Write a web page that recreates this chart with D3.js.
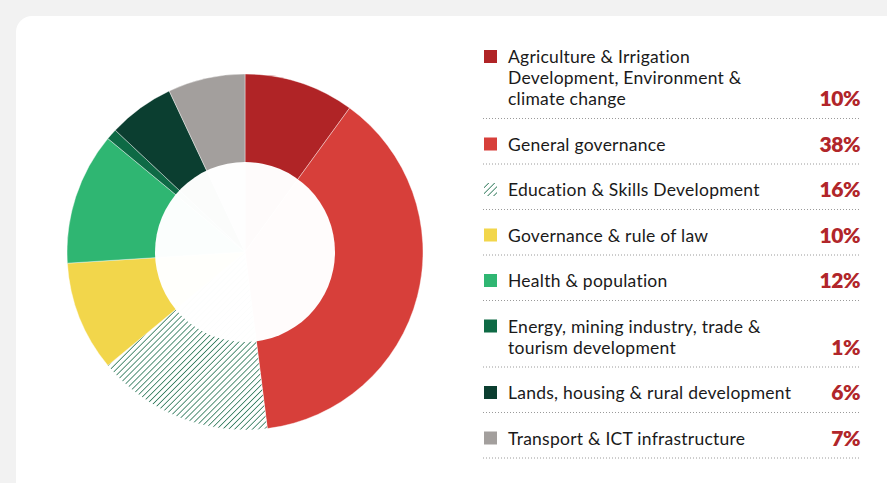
<!DOCTYPE html>
<html>
<head>
<meta charset="utf-8">
<script src="https://cdn.jsdelivr.net/npm/d3@7"></script>
<style>
  body { margin: 0; background: #f2f2f2; }
  svg { display: block; }
</style>
</head>
<body>
<svg id="chart" width="887" height="483"></svg>
<script>
// data
const categories = [
  ['Agriculture & Irrigation', 'Development, Environment &', 'climate change'],
  ['General governance'],
  ['Education & Skills Development'],
  ['Governance & rule of law'],
  ['Health & population'],
  ['Energy, mining industry, trade &', 'tourism development'],
  ['Lands, housing & rural development'],
  ['Transport & ICT infrastructure']
];
const shares = [10, 38, 16, 10, 12, 1, 6, 7];
const colors = ['#b02426', '#d73f3a', 'url(#hatch)', '#f2d64b', '#2fb672', '#0e6a45', '#0b3e30', '#a39f9d'];

const svg = d3.select('#chart');

// hatch pattern for education
const defs = svg.append('defs');
const pat = defs.append('pattern')
    .attr('id', 'hatch')
    .attr('patternUnits', 'userSpaceOnUse')
    .attr('width', 4.2).attr('height', 4.2)
    .attr('patternTransform', 'rotate(45)');
pat.append('rect').attr('width', 4.2).attr('height', 4.2).attr('fill', '#fff');
pat.append('line')
    .attr('x1', 0).attr('y1', 0).attr('x2', 0).attr('y2', 4.2)
    .attr('stroke', '#1f6f4f').attr('stroke-width', 1.5);

// card
svg.append('rect')
    .attr('x', 16).attr('y', 16)
    .attr('width', 900).attr('height', 500)
    .attr('rx', 16)
    .attr('fill', '#fff');

// donut
const cx = 245, cy = 252, outerR = 178, innerR = 90;
const pie = d3.pie().sort(null).value(d => d);
const arc = d3.arc().innerRadius(0).outerRadius(outerR);

const g = svg.append('g').attr('transform', `translate(${cx},${cy})`);
g.selectAll('path.slice')
    .data(pie(shares))
    .enter().append('path')
    .attr('class', 'slice')
    .attr('d', arc)
    .attr('fill', (d, i) => colors[i])
    .attr('stroke', '#fff')
    .attr('stroke-width', 0.4);

g.append('circle')
    .attr('r', innerR)
    .attr('fill', '#fff')
    .attr('fill-opacity', 0.985);

// legend
const lg = svg.append('g');
const lx = 483, rx = 860, lineH = 21;
let y = 31;
categories.forEach(function(lines, i) {
    const row = lg.append('g');
    const firstY = y + 26;
    row.append('rect').attr('x', lx + 1).attr('y', firstY - 7)
        .attr('width', 13).attr('height', 13).attr('fill', colors[i]);
    const label = row.append('text')
        .attr('font-family', 'Lato, sans-serif')
        .attr('font-size', 17.5)
        .attr('letter-spacing', 0.25)
        .attr('fill', '#1a1a1a');
    lines.forEach(function(t, j) {
        label.append('tspan')
            .attr('x', 508).attr('y', firstY + j * lineH + 6)
            .text(t);
    });
    const lastY = firstY + (lines.length - 1) * lineH;
    row.append('text')
        .attr('x', rx).attr('y', lastY + 7)
        .attr('text-anchor', 'end')
        .attr('font-family', 'Lato, sans-serif')
        .attr('font-weight', 800)
        .attr('font-size', 21)
        .attr('letter-spacing', -0.5)
        .attr('fill', '#b1262a')
        .text(shares[i] + '%');
    const sepY = lastY + 19.5;
    row.append('line')
        .attr('x1', lx).attr('x2', rx)
        .attr('y1', sepY).attr('y2', sepY)
        .attr('stroke', '#9a9a9a')
        .attr('stroke-width', 1)
        .attr('stroke-dasharray', '1,2');
    y = sepY;
});
</script>
</body>
</html>
